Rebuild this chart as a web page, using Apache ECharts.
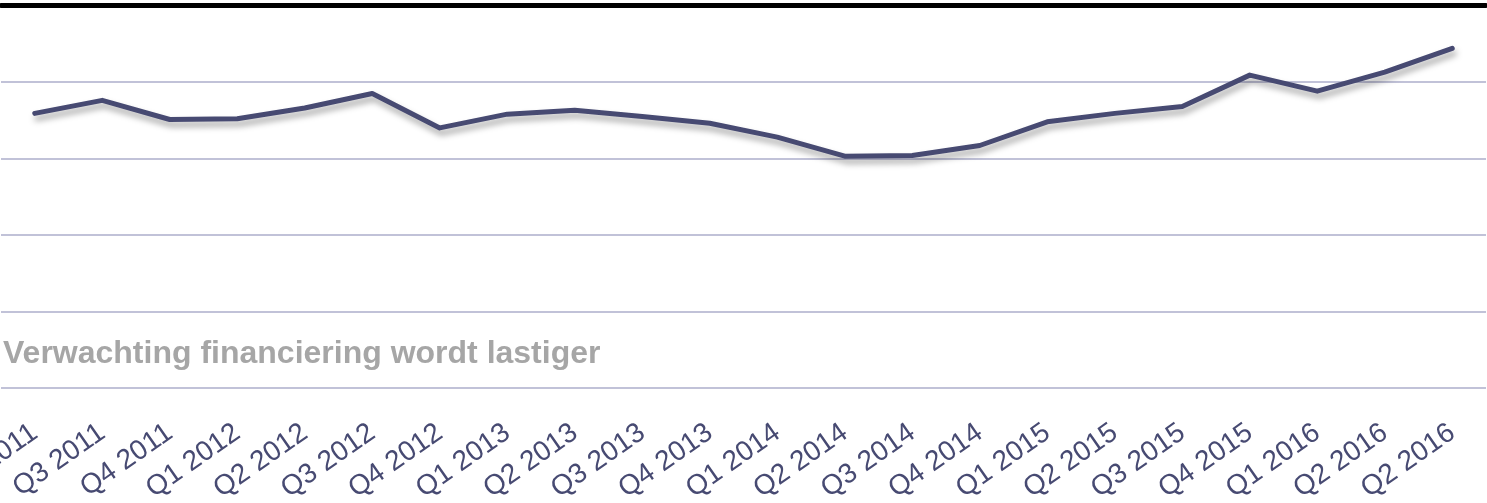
<!DOCTYPE html>
<html>
<head>
<meta charset="utf-8">
<script src="https://cdn.jsdelivr.net/npm/echarts@6/dist/echarts.min.js"></script>
<style>
  html, body { margin: 0; padding: 0; background: #fff; }
  #chart { width: 1487px; height: 503px; }
</style>
</head>
<body>
<div id="chart"></div>
<script>
const quarters = [
  'Q2 2011', 'Q3 2011', 'Q4 2011', 'Q1 2012', 'Q2 2012', 'Q3 2012', 'Q4 2012',
  'Q1 2013', 'Q2 2013', 'Q3 2013', 'Q4 2013', 'Q1 2014', 'Q2 2014', 'Q3 2014',
  'Q4 2014', 'Q1 2015', 'Q2 2015', 'Q3 2015', 'Q4 2015', 'Q1 2016', 'Q2 2016',
  'Q2 2016',
]
const expectation = [
  3.59, 3.76, 3.51, 3.52, 3.66, 3.85, 3.40, 3.58, 3.63, 3.55, 3.46,
  3.28, 3.03, 3.04, 3.17, 3.48, 3.59, 3.68, 4.09, 3.88, 4.13, 4.44,
]
const annotation = 'Verwachting financiering wordt lastiger'

const lineColor = '#474a72'
const gridColor = '#c1c2d8'

const myChart = echarts.init(document.getElementById('chart'))

myChart.setOption({
  animation: false,
  grid: {
    left: 1,
    right: 1,
    top: 5.5,
    bottom: 115,
    containLabel: false,
    outerBoundsMode: 'none',
  },
  graphic: [
    {
      type: 'text',
      left: 3,
      top: 338,
      style: {
        text: annotation,
        font: 'bold 32px "Liberation Sans", Arial, sans-serif',
        fill: '#a6a6a6',
      },
    },
  ],
  xAxis: [
    {
      type: 'category',
      data: quarters,
      boundaryGap: true,
      axisLine: { show: false },
      axisTick: { show: false },
      axisLabel: {
        interval: 0,
        rotate: 35,
        margin: 42,
        hideOverlap: false,
        color: lineColor,
        fontSize: 28,
        fontFamily: '"Liberation Sans", Arial, sans-serif',
      },
    },
    {
      // thick black rule along the top of the plot
      type: 'category',
      data: quarters,
      position: 'top',
      axisLine: { show: true, lineStyle: { color: '#000', width: 5 } },
      axisTick: { show: false },
      axisLabel: { show: false },
    },
  ],
  yAxis: {
    type: 'value',
    min: 0,
    max: 5,
    interval: 1,
    axisLine: { show: false },
    axisTick: { show: false },
    axisLabel: { show: false },
    splitLine: {
      show: true,
      lineStyle: { color: gridColor, width: 2 },
    },
  },
  series: [
    {
      type: 'line',
      data: expectation,
      showSymbol: false,
      symbol: 'none',
      lineStyle: {
        color: lineColor,
        width: 5,
        cap: 'round',
        join: 'round',
        shadowColor: 'rgba(0, 0, 0, 0.35)',
        shadowBlur: 6,
        shadowOffsetX: 2,
        shadowOffsetY: 5,
      },
    },
  ],
})
</script>
</body>
</html>
